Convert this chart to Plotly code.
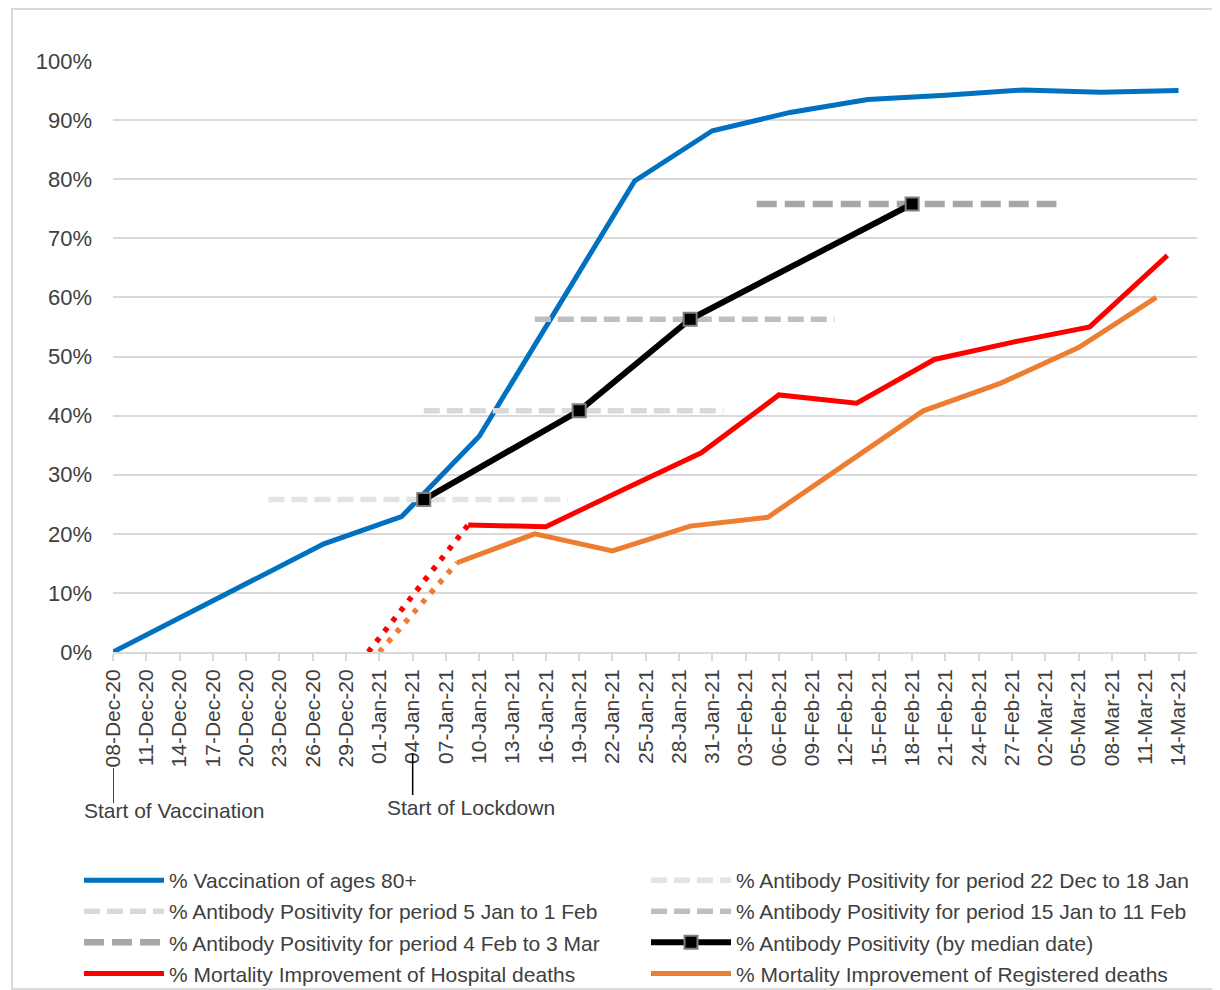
import plotly.graph_objects as go

# ---------------- data ----------------
vacc_dates = ["2020-12-08", "2020-12-27", "2021-01-03", "2021-01-10", "2021-01-24",
              "2021-01-31", "2021-02-07", "2021-02-14", "2021-02-21", "2021-02-28",
              "2021-03-07", "2021-03-14"]
vacc_vals = [0.0, 0.183, 0.229, 0.365, 0.797, 0.882, 0.913, 0.935, 0.942, 0.951, 0.947, 0.950]

ab_period_names = ["% Antibody Positivity for period 22 Dec to 18 Jan",
                   "% Antibody Positivity for period 5 Jan to 1 Feb",
                   "% Antibody Positivity for period 15 Jan to 11 Feb",
                   "% Antibody Positivity for period 4 Feb to 3 Mar"]
ab_period_start = ["2020-12-22", "2021-01-05", "2021-01-15", "2021-02-04"]
ab_period_end = ["2021-01-18", "2021-02-01", "2021-02-11", "2021-03-03"]
ab_period_vals = [0.258, 0.408, 0.563, 0.758]

ab_median_dates = ["2021-01-05", "2021-01-19", "2021-01-29", "2021-02-18"]
ab_median_vals = [0.258, 0.408, 0.563, 0.758]

hosp_dates = ["2021-01-09", "2021-01-16", "2021-01-23", "2021-01-30", "2021-02-06",
              "2021-02-13", "2021-02-20", "2021-02-27", "2021-03-06", "2021-03-13"]
hosp_vals = [0.215, 0.212, 0.275, 0.337, 0.435, 0.421, 0.495, 0.524, 0.550, 0.671]
hosp_proj_dates = ["2020-12-31", "2021-01-09"]
hosp_proj_vals = [0.0, 0.215]

reg_dates = ["2021-01-08", "2021-01-15", "2021-01-22", "2021-01-29", "2021-02-05",
             "2021-02-12", "2021-02-19", "2021-02-26", "2021-03-05", "2021-03-12"]
reg_vals = [0.151, 0.200, 0.171, 0.213, 0.228, 0.318, 0.408, 0.455, 0.515, 0.600]
reg_proj_dates = ["2021-01-01", "2021-01-08"]
reg_proj_vals = [0.0, 0.151]

events = [("2020-12-08", "Start of Vaccination"), ("2021-01-04", "Start of Lockdown")]

# ---------------- styling ----------------
FONT = "Arial, 'Liberation Sans', sans-serif"
TXT = "#404040"
GRID = "#d9d9d9"
OFF = 8                       # page body margin: figure starts at page pixel (8, 8)
W, H = 1220 - OFF, 990 - OFF
L, T = 113 - OFF, 61 - OFF     # plot area left / top (page px 113, 61)
R = W - (1197 - OFF)           # plot area right at page px 1197
B = H - (652 - OFF)            # plot area bottom at page px 652
PW, PH = W - L - R, H - T - B


def paper_x(page_px):
    return (page_px - OFF - L) / PW


def paper_y(page_py):
    return (H - B - (page_py - OFF)) / PH


def cont_x(page_px):
    return (page_px - OFF) / W


def cont_y(page_py):
    return 1 - (page_py - OFF) / H


ab_colors = ["#e3e3e3", "#d9d9d9", "#bfbfbf", "#a6a6a6"]
ab_widths = [5.5, 5.5, 5.5, 6.5]
ab_dash = ["16px,7px", "16px,7px", "16px,7px", "20px,8px"]
ab_legend = ["legend2", "legend", "legend2", "legend"]

fig = go.Figure()

fig.add_trace(go.Scatter(x=vacc_dates, y=vacc_vals, mode="lines", name="% Vaccination of ages 80+",
                         line=dict(color="#0070C0", width=5), legend="legend",
                         legendgroup="g1", legendrank=1))
for i in range(4):
    fig.add_trace(go.Scatter(x=[ab_period_start[i], ab_period_end[i]],
                             y=[ab_period_vals[i], ab_period_vals[i]], mode="lines",
                             name=ab_period_names[i], legend=ab_legend[i],
                             legendgroup="p%d" % i, legendrank=10 + i,
                             line=dict(color=ab_colors[i], width=ab_widths[i], dash=ab_dash[i])))
fig.add_trace(go.Scatter(x=ab_median_dates, y=ab_median_vals, mode="lines+markers",
                         name="% Antibody Positivity (by median date)", legend="legend2",
                         legendgroup="m", legendrank=20,
                         line=dict(color="#000000", width=6),
                         marker=dict(symbol="square", size=13, color="#000000",
                                     line=dict(color="#7f7f7f", width=2))))
fig.add_trace(go.Scatter(x=hosp_proj_dates, y=hosp_proj_vals, mode="lines", showlegend=False,
                         line=dict(color="#FF0000", width=5.5, dash="5px,8px")))
fig.add_trace(go.Scatter(x=reg_proj_dates, y=reg_proj_vals, mode="lines", showlegend=False,
                         line=dict(color="#ED7D31", width=5.5, dash="5px,8px")))
fig.add_trace(go.Scatter(x=reg_dates, y=reg_vals, mode="lines",
                         name="% Mortality Improvement of Registered deaths", legend="legend2",
                         legendgroup="r", legendrank=30,
                         line=dict(color="#ED7D31", width=5)))
fig.add_trace(go.Scatter(x=hosp_dates, y=hosp_vals, mode="lines",
                         name="% Mortality Improvement of Hospital deaths", legend="legend",
                         legendgroup="h", legendrank=30,
                         line=dict(color="#FF0000", width=5)))

# event markers below the axis (page px: line top, line bottom, text x-shift, text centre)
shapes = []
annotations = []
event_line_px = [(768, 803, -31, 810), (753, 795, -28, 808)]
for (d, label), (y0, y1, shift, ty) in zip(events, event_line_px):
    shapes.append(dict(type="line", xref="x", yref="paper", x0=d, x1=d,
                       y0=paper_y(y0), y1=paper_y(y1),
                       line=dict(color="#000000", width=1.5)))
    annotations.append(dict(x=d, xref="x", y=paper_y(ty), yref="paper", text=label,
                            showarrow=False, xanchor="left", yanchor="middle", xshift=shift,
                            font=dict(family=FONT, size=21, color=TXT)))

# outer frame
shapes.append(dict(type="rect", xref="paper", yref="paper",
                   x0=paper_x(12), x1=paper_x(1235),
                   y0=paper_y(989), y1=paper_y(9),
                   line=dict(color=GRID, width=2), fillcolor="rgba(0,0,0,0)", layer="below"))

leg_common = dict(orientation="v", xref="container", yref="container", xanchor="left",
                  yanchor="top", itemwidth=80, tracegroupgap=0.8, traceorder="grouped",
                  font=dict(family=FONT, size=21, color=TXT), bgcolor="rgba(0,0,0,0)")

fig.update_layout(
    width=W, height=H,
    margin=dict(l=L, r=R, t=T, b=B, autoexpand=False),
    paper_bgcolor="white", plot_bgcolor="white",
    font=dict(family=FONT, size=21, color=TXT),
    showlegend=True,
    legend=dict(x=cont_x(79), y=cont_y(860), **leg_common),
    legend2=dict(x=cont_x(646), y=cont_y(860), **leg_common),
    shapes=shapes, annotations=annotations,
)

fig.update_xaxes(type="date", range=["2020-12-08", "2021-03-15 16:00"],
                 tick0="2020-12-08", dtick=3 * 86400000, tickformat="%d-%b-%y",
                 tickangle=-90, ticks="outside", ticklen=7, tickwidth=2, tickcolor=GRID,
                 showline=True, linecolor=GRID, linewidth=2, showgrid=False,
                 tickfont=dict(family=FONT, size=21, color=TXT), zeroline=False)
fig.update_yaxes(range=[0, 1.0], dtick=0.1, tickformat=".0%", showgrid=True,
                 gridcolor=GRID, gridwidth=2, zeroline=False, showline=False,
                 ticks="", ticklabelstandoff=20,
                 tickfont=dict(family=FONT, size=22, color=TXT))

fig.write_html("out.html")
